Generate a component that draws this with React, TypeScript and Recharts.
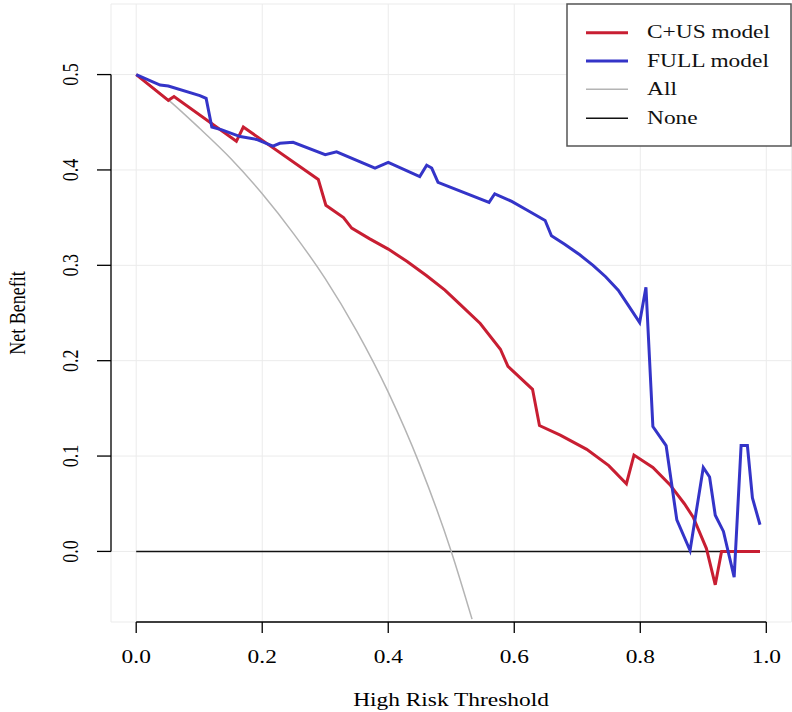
import React from 'react';
import { LineChart, Line, XAxis, YAxis, CartesianGrid, ReferenceLine } from 'recharts';

// decision curve values
const cusThreshold = [0, 0.051, 0.06, 0.159, 0.17, 0.289, 0.301, 0.329, 0.342, 0.37, 0.4, 0.43, 0.461, 0.49, 0.514, 0.546, 0.578, 0.59, 0.629, 0.64, 0.673, 0.715, 0.75, 0.778, 0.79, 0.82, 0.847, 0.87, 0.884, 0.905, 0.919, 0.929, 0.99];
const cusBenefit = [0.5, 0.473, 0.477, 0.43, 0.445, 0.39, 0.363, 0.35, 0.339, 0.328, 0.317, 0.304, 0.289, 0.274, 0.259, 0.239, 0.212, 0.194, 0.17, 0.132, 0.122, 0.107, 0.09, 0.071, 0.101, 0.088, 0.07, 0.05, 0.036, 0.003, -0.035, 0.0, 0.0];

const fullThreshold = [0, 0.038, 0.051, 0.101, 0.111, 0.12, 0.136, 0.165, 0.191, 0.217, 0.228, 0.249, 0.3, 0.318, 0.379, 0.4, 0.45, 0.461, 0.469, 0.479, 0.56, 0.569, 0.596, 0.62, 0.649, 0.659, 0.68, 0.704, 0.725, 0.745, 0.765, 0.78, 0.799, 0.809, 0.82, 0.841, 0.858, 0.879, 0.9, 0.91, 0.919, 0.932, 0.949, 0.96, 0.97, 0.978, 0.99];
const fullBenefit = [0.5, 0.489, 0.488, 0.478, 0.475, 0.445, 0.442, 0.435, 0.432, 0.425, 0.428, 0.429, 0.416, 0.419, 0.402, 0.408, 0.393, 0.405, 0.402, 0.387, 0.366, 0.375, 0.367, 0.358, 0.347, 0.331, 0.322, 0.311, 0.3, 0.288, 0.274, 0.259, 0.24, 0.277, 0.131, 0.111, 0.033, 0.001, 0.088, 0.078, 0.038, 0.021, -0.027, 0.111, 0.111, 0.056, 0.028];

const allThreshold = [0, 0.05, 0.1, 0.15, 0.2, 0.25, 0.3, 0.35, 0.4, 0.45, 0.5, 0.533];
const allBenefit = [0.5, 0.474, 0.444, 0.412, 0.375, 0.333, 0.286, 0.231, 0.167, 0.091, 0.0, -0.071];

const noneThreshold = [0, 0.99];
const noneBenefit = [0, 0];

const xTicks = [0, 0.2, 0.4, 0.6, 0.8, 1.0];
const yTicks = [0, 0.1, 0.2, 0.3, 0.4, 0.5];

const seriesNames = ['C+US model', 'FULL model', 'All', 'None'];
const seriesColors = ['#c81e32', '#3434c8', '#b4b4b4', '#111111'];
const seriesWidths = [3, 3, 1.5, 1.5];

const zip = (ts: number[], vs: number[]) => ts.map((t, i) => ({ t, nb: vs[i] }));

const cusData = zip(cusThreshold, cusBenefit);
const fullData = zip(fullThreshold, fullBenefit);
const allData = zip(allThreshold, allBenefit);
const noneData = zip(noneThreshold, noneBenefit);

const FONT = '"Liberation Serif", "Times New Roman", serif';
const STRETCH = 1.3;

function XTick(props: any) {
  const { x, payload } = props;
  return (
    <text transform={`translate(${x},663) scale(${STRETCH},1)`} textAnchor="middle" fontFamily={FONT} fontSize={18} fill="#000">
      {Number(payload.value).toFixed(1)}
    </text>
  );
}

function YTick(props: any) {
  const { y, payload } = props;
  return (
    <text transform={`translate(78,${y}) scale(${STRETCH},1) rotate(-90)`} textAnchor="middle" fontFamily={FONT} fontSize={18} fill="#000">
      {Number(payload.value).toFixed(1)}
    </text>
  );
}

function XTitle() {
  return (
    <text transform={`translate(451,706) scale(${STRETCH},1)`} textAnchor="middle" fontFamily={FONT} fontSize={18} fill="#000">
      High Risk Threshold
    </text>
  );
}

function YTitle() {
  return (
    <text transform={`translate(25,313) scale(${STRETCH},1) rotate(-90)`} textAnchor="middle" fontFamily={FONT} fontSize={18} fill="#000">
      Net Benefit
    </text>
  );
}

function LegendBox() {
  const rows = [32.7, 61, 89.3, 118.3];
  return (
    <svg width={226} height={144} style={{ position: 'absolute', left: 566, top: 3 }}>
      <rect x={1} y={1} width={224} height={142} fill="#fff" stroke="#555" strokeWidth={1.5} />
      {seriesNames.map((name, i) => (
        <g key={name}>
          <line x1={20} x2={62} y1={rows[i] - 3} y2={rows[i] - 3} stroke={seriesColors[i]} strokeWidth={seriesWidths[i]} />
          <text transform={`translate(81,${rows[i] + 2.6}) scale(${STRETCH},1)`} fontFamily={FONT} fontSize={18} fill="#111">
            {name}
          </text>
        </g>
      ))}
    </svg>
  );
}

export default function App() {
  return (
    <div style={{ position: 'absolute', left: 0, top: 0, width: 792, height: 712, background: '#fff' }}>
      <LineChart width={792} height={712} margin={{ top: 4, right: 0.5, bottom: 0, left: 0 }}>
        <CartesianGrid stroke="#ebebeb" strokeWidth={1} />
        <XAxis
          type="number"
          dataKey="t"
          domain={[-0.04, 1.04]}
          ticks={xTicks}
          interval={0}
          allowDataOverflow
          height={90}
          axisLine={false}
          tickSize={11}
          tickLine={{ stroke: '#000', strokeWidth: 1.3 }}
          tick={<XTick />}
          label={<XTitle />}
        />
        <YAxis
          type="number"
          domain={[-0.074, 0.574]}
          ticks={yTicks}
          interval={0}
          allowDataOverflow
          width={111}
          axisLine={false}
          tickSize={14}
          tickLine={{ stroke: '#000', strokeWidth: 1.3 }}
          tick={<YTick />}
          label={<YTitle />}
        />
        <ReferenceLine segment={[{ x: 0, y: -0.074 }, { x: 1, y: -0.074 }]} stroke="#000" strokeWidth={1.3} />
        <ReferenceLine segment={[{ x: -0.04, y: 0 }, { x: -0.04, y: 0.5 }]} stroke="#000" strokeWidth={1.3} />
        <Line data={noneData} dataKey="nb" name={seriesNames[3]} type="linear" stroke={seriesColors[3]} strokeWidth={seriesWidths[3]} dot={false} isAnimationActive={false} />
        <Line data={allData} dataKey="nb" name={seriesNames[2]} type="monotone" stroke={seriesColors[2]} strokeWidth={seriesWidths[2]} dot={false} isAnimationActive={false} />
        <Line data={cusData} dataKey="nb" name={seriesNames[0]} type="linear" stroke={seriesColors[0]} strokeWidth={seriesWidths[0]} dot={false} isAnimationActive={false} />
        <Line data={fullData} dataKey="nb" name={seriesNames[1]} type="linear" stroke={seriesColors[1]} strokeWidth={seriesWidths[1]} dot={false} isAnimationActive={false} />
      </LineChart>
      <LegendBox />
    </div>
  );
}
